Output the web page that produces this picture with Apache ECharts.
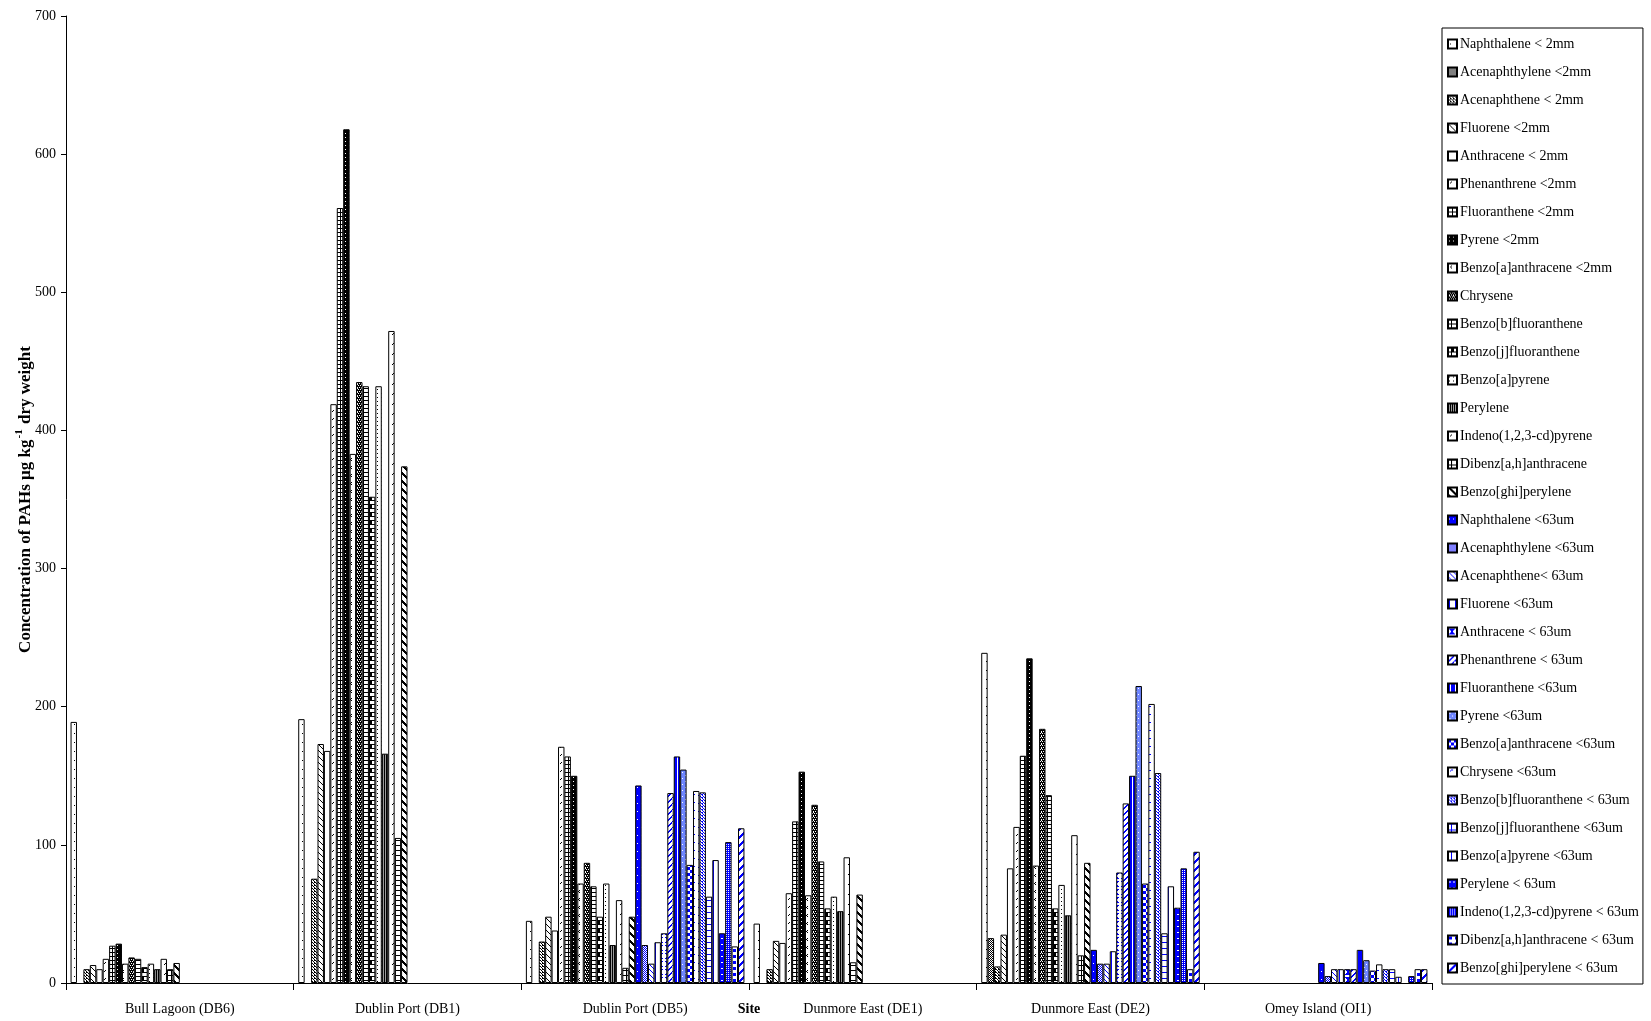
<!DOCTYPE html>
<html>
<head>
<meta charset="utf-8">
<script src="https://cdn.jsdelivr.net/npm/echarts@6/dist/echarts.min.js"></script>
<style>
  html, body { margin: 0; padding: 0; background: #fff; }
  #chart { width: 1651px; height: 1021px; }
</style>
</head>
<body>
<div id="chart"></div>
<script>
// Sampling sites
const sites = ['Bull Lagoon (DB6)', 'Dublin Port (DB1)', 'Dublin Port (DB5)',
               'Dunmore East (DE1)', 'Dunmore East (DE2)', 'Omey Island (OI1)'];

// PAH compounds, <2mm fraction then <63um fraction
const compounds = [
  'Naphthalene < 2mm', 'Acenaphthylene <2mm', 'Acenaphthene < 2mm', 'Fluorene <2mm',
  'Anthracene < 2mm', 'Phenanthrene <2mm', 'Fluoranthene <2mm', 'Pyrene <2mm',
  'Benzo[a]anthracene <2mm', 'Chrysene', 'Benzo[b]fluoranthene', 'Benzo[j]fluoranthene',
  'Benzo[a]pyrene', 'Perylene', 'Indeno(1,2,3-cd)pyrene', 'Dibenz[a,h]anthracene',
  'Benzo[ghi]perylene',
  'Naphthalene <63um', 'Acenaphthylene <63um', 'Acenaphthene< 63um', 'Fluorene <63um',
  'Anthracene < 63um', 'Phenanthrene < 63um', 'Fluoranthene <63um', 'Pyrene <63um',
  'Benzo[a]anthracene <63um', 'Chrysene <63um', 'Benzo[b]fluoranthene < 63um',
  'Benzo[j]fluoranthene <63um', 'Benzo[a]pyrene <63um', 'Perylene < 63um',
  'Indeno(1,2,3-cd)pyrene < 63um', 'Dibenz[a,h]anthracene < 63um', 'Benzo[ghi]perylene < 63um'
];

// Concentrations (µg kg-1 dry weight), one value per compound in the order above
const bullLagoonDB6 = [189, null, 10, 13, 10, 17.5, 27, 28.5, 14, 18.5, 17.5, 11.5, 14, 10, 17.5, 10, 14.5,
  null, null, null, null, null, null, null, null, null, null, null, null, null, null, null, null, null];
const dublinPortDB1 = [191, null, 75.5, 173, 168, 419, 561, 618, 383, 435, 432, 352, 432, 166, 472, 105, 374,
  null, null, null, null, null, null, null, null, null, null, null, null, null, null, null, null, null];
const dublinPortDB5 = [45, null, 30, 48, 38, 171, 164, 150, 72, 87, 70, 48, 72, 27.5, 60, 11, 48,
  143, 27.5, 14, 29.5, 36, 137.5, 164, 154.5, 85.5, 139, 138, 62.5, 89, 36, 102, 26.5, 112];
const dunmoreEastDE1 = [43, null, 10, 30.5, 29, 65, 117, 153, 63.5, 129, 88, 54, 62.5, 52, 91, 15, 64,
  null, null, null, null, null, null, null, null, null, null, null, null, null, null, null, null, null];
const dunmoreEastDE2 = [239, 32.5, 12, 35, 83, 113, 164.5, 235, 85, 184, 136, 54, 71, 49, 107, 20, 87,
  24, 14, 14, 23, 80, 130, 150, 215, 72, 202, 152, 36, 70, 54.5, 83, 10, 95];
const omeyIslandOI1 = [null, null, null, null, null, null, null, null, null, null, null, null, null, null, null, null, null,
  14.5, 5, 10, 10, 10, 10, 24, 16.5, 9, 13.5, 10, 10, 4.5, null, 5, 10, 10];

const yTicks = { min: 0, max: 700, interval: 100 };

const siteValues = [bullLagoonDB6, dublinPortDB1, dublinPortDB5, dunmoreEastDE1, dunmoreEastDE2, omeyIslandOI1];

// ---- fill patterns -------------------------------------------------------
const K = '#000000', W = '#ffffff', B = '#0000ff', LB = '#6f86ff';
function pat(w, h, bg, fg, draw) {
  const c = document.createElement('canvas');
  c.width = w; c.height = h;
  const ctx = c.getContext('2d');
  ctx.fillStyle = bg; ctx.fillRect(0, 0, w, h);
  ctx.fillStyle = fg;
  const px = (x, y, a, b) => ctx.fillRect(x, y, a || 1, b || 1);
  draw(px, w, h, ctx);
  return { image: c, repeat: 'repeat' };
}
const diagDown = (n, t) => (px) => { for (let i = 0; i < n; i++) px(i, i, t || 1, 1); };
const diagUp = (n, t) => (px) => { for (let i = 0; i < n; i++) px(n - 1 - i, i, t || 1, 1); };
// thick stripes that wrap across the tile edge
const stripes = (dir, t) => (px, w) => {
  for (let i = 0; i < w; i++) {
    const x0 = dir > 0 ? i : w - 1 - i;
    for (let k = 0; k < t; k++) px((x0 + k) % w, i, 1, 1);
  }
};

const fills = [
  pat(6, 9, W, K, px => px(2, 4)),                                   // Naphthalene
  pat(2, 2, W, K, px => { px(0, 0); px(1, 1); }),                    // Acenaphthylene
  pat(3, 3, W, K, px => { px(0, 0); px(1, 1); px(2, 2); px(2, 0); }), // Acenaphthene
  pat(6, 6, W, K, diagDown(6)),                                      // Fluorene
  pat(8, 8, W, K, () => {}),                                         // Anthracene
  pat(6, 8, W, K, px => { px(3, 2); px(2, 3); }),                    // Phenanthrene
  pat(4, 4, W, K, px => { px(0, 0, 4, 1); px(0, 0, 1, 4); }),        // Fluoranthene
  pat(4, 4, K, W, px => px(1, 1, 1, 1)),                             // Pyrene
  pat(6, 8, W, K, px => { px(3, 2); px(2, 3); px(3, 4); }),          // Benzo[a]anthracene
  pat(4, 4, K, W, px => { px(0, 1); px(2, 1); px(1, 3); px(3, 3); px(1, 0); }), // Chrysene
  pat(6, 4, W, K, px => { px(0, 0, 6, 1); px(3, 0, 1, 4); }),        // Benzo[b]fluoranthene
  pat(6, 8, W, K, px => { px(0, 0, 6, 1); px(0, 4, 6, 1); px(3, 0, 1, 8); px(3, 1, 3, 3); }), // Benzo[j]fluoranthene
  pat(4, 4, W, K, px => px(1, 1)),                                   // Benzo[a]pyrene
  pat(2, 1, '#9a9a9a', K, px => px(0, 0)),                           // Perylene
  pat(6, 10, W, K, px => { px(3, 3); px(2, 4); }),                   // Indeno(1,2,3-cd)pyrene
  pat(7, 5, W, K, px => { px(0, 0, 7, 1); px(3, 0, 1, 5); }),        // Dibenz[a,h]anthracene
  pat(8, 8, W, K, stripes(1, 3)),                                    // Benzo[ghi]perylene

  pat(4, 8, B, W, px => px(1, 3)),                                   // Naphthalene <63
  pat(2, 2, W, B, px => { px(0, 0); px(1, 1); }),                    // Acenaphthylene <63
  pat(5, 5, W, B, diagDown(5)),                                      // Acenaphthene <63
  pat(6, 1, W, B, px => px(1, 0)),                                   // Fluorene <63
  pat(8, 8, W, B, px => { px(1, 1, 6, 1); px(2, 2, 4, 1); px(3, 3, 2, 2); px(2, 5, 4, 1); px(1, 6, 6, 1); }), // Anthracene <63
  pat(6, 6, W, B, diagUp(6, 2)),                                     // Phenanthrene <63
  pat(5, 1, B, W, px => px(2, 0)),                                   // Fluoranthene <63
  pat(6, 6, LB, W, px => { px(1, 1, 2, 1); px(4, 4, 1, 1); }),       // Pyrene <63
  pat(6, 6, W, B, px => { px(0, 0, 3, 3); px(3, 3, 3, 3); }),        // Benzo[a]anthracene <63
  pat(6, 8, W, B, px => { px(3, 2); px(2, 3); px(4, 2); }),          // Chrysene <63
  pat(3, 3, W, B, px => { px(0, 0); px(1, 1); px(2, 2); px(0, 2); }), // Benzo[b]fluoranthene <63
  pat(6, 6, W, B, px => { px(0, 0, 6, 1); px(3, 0, 1, 6); }),        // Benzo[j]fluoranthene <63
  pat(5, 1, W, B, px => px(3, 0)),                                   // Benzo[a]pyrene <63
  pat(4, 6, B, W, px => px(1, 2, 2, 1)),                             // Perylene <63
  pat(2, 2, B, W, px => px(0, 0)),                                   // Indeno(1,2,3-cd)pyrene <63
  pat(6, 6, W, B, px => px(1, 1, 3, 3)),                             // Dibenz[a,h]anthracene <63
  pat(8, 8, W, B, stripes(-1, 3))                                    // Benzo[ghi]perylene <63
];

const FONT = 'Liberation Serif, Times New Roman, serif';

const series = compounds.map((name, i) => ({
  name,
  type: 'bar',
  barGap: '0%',
  barCategoryGap: '4%',
  data: siteValues.map(site => site[i]),
  itemStyle: { color: fills[i], borderColor: '#000', borderWidth: 1 },
  emphasis: { disabled: true }
}));

const chart = echarts.init(document.getElementById('chart'), null, { renderer: 'canvas' });
chart.setOption({
  animation: false,
  backgroundColor: '#fff',
  textStyle: { fontFamily: FONT, color: '#000' },
  grid: { left: 66, right: 219, top: 16, bottom: 38, containLabel: false, outerBoundsMode: 'none' },
  legend: {
    orient: 'vertical',
    left: 1442,
    top: 28,
    icon: 'rect',
    itemWidth: 9,
    itemHeight: 9,
    itemGap: 12,
    padding: [8, 4, 8, 5],
    borderColor: '#000',
    borderWidth: 1,
    selectedMode: false,
    textStyle: { fontFamily: FONT, fontSize: 14, lineHeight: 16, color: '#000', padding: [0, 0, 0, -2] },
    data: compounds
  },
  xAxis: {
    type: 'category',
    data: sites,
    name: 'Site',
    nameLocation: 'middle',
    nameGap: 19,
    nameMoveOverlap: false,
    nameTextStyle: { fontFamily: FONT, fontSize: 14, fontWeight: 'bold', color: '#000' },
    axisLine: { lineStyle: { color: '#000', width: 1 } },
    axisTick: { show: true, length: 7, lineStyle: { color: '#000' } },
    axisLabel: { fontFamily: FONT, fontSize: 14, color: '#000', margin: 19, interval: 0 },
    splitLine: { show: false }
  },
  yAxis: {
    type: 'value',
    min: yTicks.min,
    max: yTicks.max,
    interval: yTicks.interval,
    name: '{a|Concentration of PAHs µg kg}{s|-1}{a| dry weight}',
    nameLocation: 'middle',
    nameRotate: 90,
    nameGap: 32,
    nameMoveOverlap: false,
    nameTextStyle: {
      rich: {
        a: { fontFamily: FONT, fontSize: 17, fontWeight: 'bold', color: '#000', lineHeight: 20, verticalAlign: 'bottom' },
        s: { fontFamily: FONT, fontSize: 11, fontWeight: 'bold', color: '#000', lineHeight: 20, verticalAlign: 'top', padding: [0, 1, 9, 1] }
      }
    },
    axisLine: { show: true, lineStyle: { color: '#000', width: 1 } },
    axisTick: { show: true, length: 5, lineStyle: { color: '#000' } },
    axisLabel: { fontFamily: FONT, fontSize: 14, color: '#000', margin: 10 },
    splitLine: { show: false }
  },
  series
});
</script>
</body>
</html>
